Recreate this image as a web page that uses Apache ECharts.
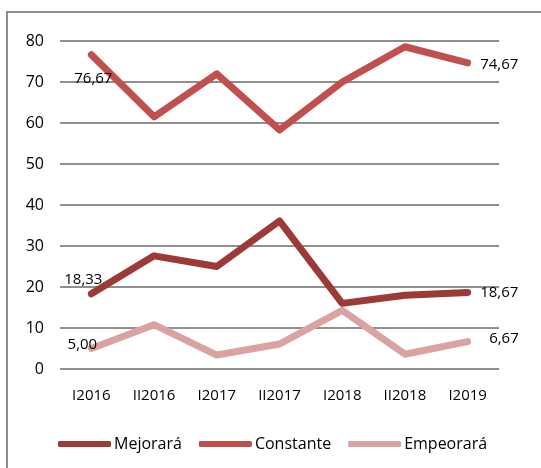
<!DOCTYPE html>
<html><head><meta charset="utf-8">
<script src="https://cdn.jsdelivr.net/npm/echarts@6/dist/echarts.min.js"></script>
<style>html,body{margin:0;padding:0;background:#fff}#c{width:541px;height:468px}</style>
</head><body><div id="c"></div>
<script>
const categories = ['I2016','II2016','I2017','II2017','I2018','II2018','I2019'];
const mejorara = [18.33, 27.6, 25.0, 36.1, 16.0, 18.0, 18.67];
const constante = [76.67, 61.5, 72.0, 58.3, 70.0, 78.6, 74.67];
const empeorara = [5.00, 10.8, 3.4, 6.1, 14.3, 3.6, 6.67];
const yTicks = {min: 0, max: 80, interval: 10};

const FONT = 'Open Sans';
const fmt = v => v.toFixed(2).replace('.', ',');

function buildData(arr, firstLabel, lastLabel) {
  return arr.map((v, i) => {
    const item = {value: v};
    if (i === 0) item.label = Object.assign({show: true, formatter: p => fmt(p.value)}, firstLabel);
    else if (i === arr.length - 1) item.label = Object.assign({show: true, formatter: p => fmt(p.value)}, lastLabel);
    return item;
  });
}

function series(name, arr, color, firstLabel, lastLabel) {
  return {
    name, type: 'line', data: buildData(arr, firstLabel, lastLabel),
    symbol: 'circle', symbolSize: 1, showSymbol: true,
    itemStyle: {color},
    lineStyle: {color, width: 7, cap: 'round', join: 'round'},
    label: {color: '#000', fontFamily: FONT, fontSize: 15},
    emphasis: {disabled: true}, animation: false
  };
}

const chart = echarts.init(document.getElementById('c'), null, {renderer: 'canvas'});
chart.setOption({
  animation: false,
  backgroundColor: '#fff',
  graphic: [{type: 'rect', shape: {x: 7, y: 12, width: 700, height: 700},
    style: {fill: 'none', stroke: '#8c8c8c', lineWidth: 2}, silent: true}],
  grid: {left: 60, right: 42, top: 41, bottom: 99, containLabel: false},
  xAxis: {type: 'category', data: categories, boundaryGap: true,
    axisLine: {show: false}, axisTick: {show: false},
    axisLabel: {color: '#000', fontFamily: FONT, fontSize: 15, margin: 19}},
  yAxis: {type: 'value', min: yTicks.min, max: yTicks.max, interval: yTicks.interval,
    axisLine: {show: false}, axisTick: {show: false},
    splitLine: {lineStyle: {color: '#8f8f8f', width: 2}},
    axisLabel: {color: '#000', fontFamily: FONT, fontSize: 16, margin: 16}},
  legend: {left: 53, top: 431, itemWidth: 53, itemHeight: 6, itemGap: 17, icon: 'roundRect',
    textStyle: {color: '#000', fontFamily: FONT, fontSize: 16, padding: [0,0,0,-2]},
    data: ['Mejorará','Constante','Empeorará']},
  series: [
    series('Mejorará', mejorara, '#9b3a37', {position: 'top', distance: 6, offset: [-8, 0]}, {position: 'right', distance: 12}),
    series('Constante', constante, '#c0504d', {position: 'bottom', distance: 16, offset: [2, 0]}, {position: 'right', distance: 12, offset: [0, 2]}),
    series('Empeorará', empeorara, '#d9a3a2', {position: 'top', distance: -4, offset: [-9, 0]}, {position: 'right', distance: 21, offset: [0, -3]})
  ]
});
</script></body></html>
